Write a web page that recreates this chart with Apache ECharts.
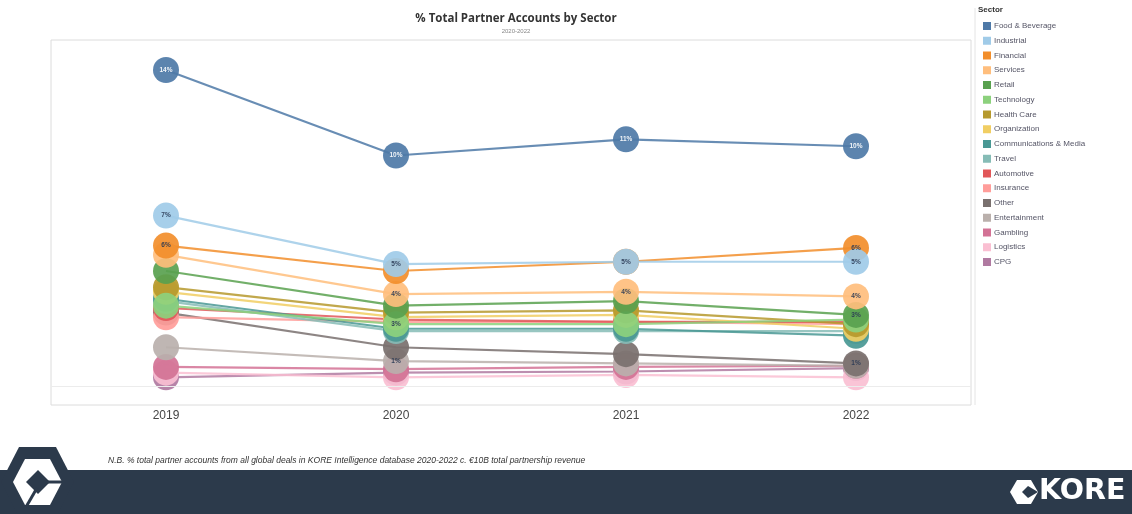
<!DOCTYPE html>
<html>
<head>
<meta charset="utf-8">
<script src="https://cdn.jsdelivr.net/npm/echarts@6/dist/echarts.min.js"></script>
<style>html,body{margin:0;padding:0;background:#fff}#c{width:1132px;height:514px}</style>
</head>
<body>
<div id="c"></div>
<script>
// ---- data ----
const years = ['2019', '2020', '2021', '2022'];
const sectors = ['Food & Beverage','Industrial','Financial','Services','Retail','Technology','Health Care','Organization','Communications & Media','Travel','Automotive','Insurance','Other','Entertainment','Gambling','Logistics','CPG'];
const colors = ['#4e79a7','#a0cbe8','#f28e2b','#ffbe7d','#59a14f','#8cd17d','#b6992d','#f1ce63','#499894','#86bcb6','#e15759','#ff9d9a','#79706e','#bab0ac','#d37295','#fabfd2','#b07aa1'];
const foodBeverage = [13.7, 10.0, 10.7, 10.4];
const industrial = [7.4, 5.3, 5.4, 5.4];
const financial = [6.1, 5.0, 5.4, 6.0];
const services = [5.7, 4.0, 4.1, 3.9];
const retail = [5.0, 3.5, 3.7, 3.1];
const technology = [3.5, 2.7, 2.7, 2.9];
const healthCare = [4.3, 3.2, 3.3, 2.7];
const organization = [4.1, 3.0, 3.1, 2.5];
const commsMedia = [3.8, 2.5, 2.5, 2.2];
const travel = [3.7, 2.4, 2.4, 2.4];
const automotive = [3.4, 2.9, 2.8, 2.8];
const insurance = [3.0, 2.8, 2.8, 2.7];
const other = [3.2, 1.7, 1.4, 1.0];
const entertainment = [1.7, 1.1, 1.0, 0.9];
const gambling = [0.85, 0.75, 0.85, 0.9];
const logistics = [0.6, 0.4, 0.5, 0.4];
const cpg = [0.4, 0.6, 0.65, 0.8];
const seriesValues = [foodBeverage, industrial, financial, services, retail, technology, healthCare, organization, commsMedia, travel, automotive, insurance, other, entertainment, gambling, logistics, cpg];
// which points show their mark label (1 = shown)
const labelShown = [
  [1,1,1,1],[1,1,1,1],[1,0,0,1],[0,1,1,1],[0,0,0,1],[0,1,0,0],[0,0,0,0],[0,0,0,0],
  [0,0,0,0],[0,0,0,0],[0,0,0,0],[0,0,0,0],[0,0,0,1],[0,1,0,0],[0,0,0,0],[0,0,0,0],[0,0,0,0]
];

const chart = echarts.init(document.getElementById('c'));
const series = [];
// lines (behind all circles)
for (let i = sectors.length - 1; i >= 0; i--) {
  series.push({
    name: sectors[i], type: 'line', data: seriesValues[i], showSymbol: false, silent: true,
    z: 2, lineStyle: { color: colors[i], width: 2.2, opacity: 0.85 }, itemStyle: { color: colors[i] }
  });
}
// circles (first legend item on top)
for (let i = sectors.length - 1; i >= 0; i--) {
  series.push({
    name: sectors[i], type: 'scatter', z: 3, symbolSize: 26,
    itemStyle: { color: colors[i], opacity: 0.92 },
    data: seriesValues[i].map((v, j) => ({
      value: v,
      label: {
        show: labelShown[i][j] === 1, position: 'inside',
        formatter: p => Math.round(p.value) + '%',
        fontSize: 6.5, fontWeight: 'bold', color: i === 0 ? '#fff' : '#2a3a55'
      }
    }))
  });
}
// zero reference line
series.push({
  type: 'line', data: [], silent: true,
  markLine: { silent: true, symbol: 'none', label: { show: false }, lineStyle: { color: '#ececec', type: 'solid', width: 1 }, data: [{ yAxis: 0 }] }
});

chart.setOption({
  animation: false,
  title: {
    text: '% Total Partner Accounts by Sector', subtext: '2020-2022',
    left: 511, top: 8, textAlign: 'center', itemGap: 3,
    textStyle: { fontSize: 11.5, fontWeight: 'bold', color: '#333', fontFamily: 'Open Sans' },
    subtextStyle: { fontSize: 6, color: '#888' }
  },
  legend: {
    data: sectors, orient: 'vertical', left: 978, top: 17, icon: 'rect',
    itemWidth: 8, itemHeight: 8, itemGap: 6.75,
    textStyle: { fontSize: 8, color: '#556', padding: [0, 0, 0, -2] }
  },
  grid: { left: 51, right: 161, top: 40, bottom: 109, show: true, borderColor: '#dcdcdc', borderWidth: 1 },
  xAxis: {
    type: 'category', data: years, boundaryGap: true,
    axisLine: { show: false }, axisTick: { show: false },
    axisLabel: { fontSize: 12, color: '#444', margin: 5 }
  },
  yAxis: { type: 'value', min: -0.8, max: 15, show: false, splitLine: { show: false } },
  series: series,
  graphic: [
    { type: 'text', left: 978, top: 6, style: { text: 'Sector', fontSize: 8, fontWeight: 'bold', fill: '#333' } },
    { type: 'line', shape: { x1: 975, y1: 8, x2: 975, y2: 405 }, style: { stroke: '#e4e4e4', lineWidth: 1 } },
    { type: 'rect', shape: { x: 0, y: 470, width: 1132, height: 44 }, style: { fill: '#2c3a4b' } },
    { type: 'text', x: 108, y: 456, style: { text: 'N.B. % total partner accounts from all global deals in KORE Intelligence database 2020-2022 c. €10B total partnership revenue', fontSize: 8.5, fontStyle: 'italic', fill: '#333' } },
    // left logo
    { type: 'polygon', shape: { points: [[74,482],[56,447],[19,447],[1,482],[19,517],[56,517]] }, style: { fill: '#2c3a4b' } },
    { type: 'polygon', shape: { points: [[62,482],[50,459],[25,459],[13,482],[25,505],[50,505]] }, style: { fill: '#fff' } },
    { type: 'polygon', shape: { points: [[38,470],[50,482],[38,494],[26,482]] }, style: { fill: '#2c3a4b' } },
    { type: 'line', shape: { x1: 44, y1: 482, x2: 63, y2: 482 }, style: { stroke: '#2c3a4b', lineWidth: 3 } },
    { type: 'line', shape: { x1: 37, y1: 488, x2: 26, y2: 507 }, style: { stroke: '#2c3a4b', lineWidth: 3 } },
    // right logo
    { type: 'polygon', shape: { points: [[1038,492],[1031,480],[1017,480],[1010,492],[1017,504],[1031,504]] }, style: { fill: '#fff' } },
    { type: 'polygon', shape: { points: [[1038,492],[1028,486],[1022,492],[1028,498]] }, style: { fill: '#2c3a4b' } },
    { type: 'text', x: 1039, y: 477, style: { text: 'KORE', fontSize: 28.5, fontWeight: 'bold', fill: '#fff', fontFamily: 'DejaVu Sans' } }
  ]
});
</script>
</body>
</html>
